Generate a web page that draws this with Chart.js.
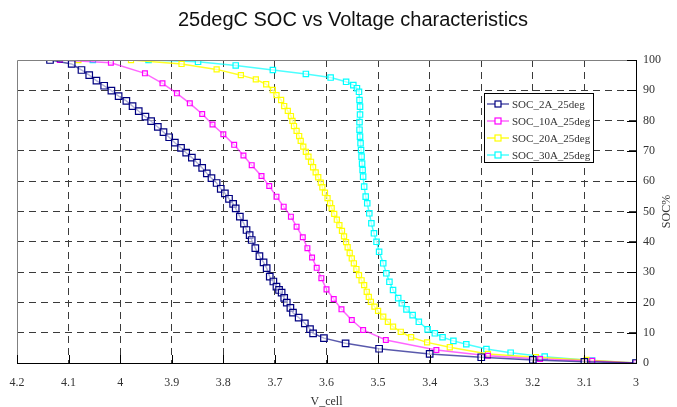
<!DOCTYPE html>
<html>
<head>
<meta charset="utf-8">
<script src="https://cdn.jsdelivr.net/npm/chart.js@4.4.0/dist/chart.umd.min.js"></script>
<style>
  html, body { margin: 0; padding: 0; background: #fff; }
  #wrap { width: 677px; height: 407px; }
</style>
</head>
<body>
<div id="wrap"><canvas id="grafico" width="677" height="407"></canvas></div>
<script>
const titulo = "25degC SOC vs Voltage characteristics";
const nomes = ["SOC_2A_25deg", "SOC_10A_25deg", "SOC_20A_25deg", "SOC_30A_25deg"];
const cores = ["#000080", "#ff00ff", "#ffff00", "#00ffff"];
const xTicks = [4.2, 4.1, 4.0, 3.9, 3.8, 3.7, 3.6, 3.5, 3.4, 3.3, 3.2, 3.1, 3.0];
const yTicks = [0, 10, 20, 30, 40, 50, 60, 70, 80, 90, 100];

// SOC_2A_25deg
const v2A = [4.136, 4.094, 4.075, 4.060, 4.046, 4.031, 4.017, 4.003, 3.988, 3.976,
  3.964, 3.951, 3.940, 3.927, 3.916, 3.905, 3.894, 3.882, 3.872, 3.861,
  3.851, 3.841, 3.832, 3.823, 3.813, 3.805, 3.797, 3.789, 3.781, 3.776,
  3.768, 3.760, 3.755, 3.749, 3.745, 3.738, 3.730, 3.722, 3.716, 3.710,
  3.703, 3.697, 3.692, 3.687, 3.682, 3.677, 3.670, 3.665, 3.654, 3.642,
  3.632, 3.626, 3.605, 3.563, 3.498, 3.400, 3.300, 3.200, 3.100, 3.000];
const soc2A = [100, 98.7, 96.7, 95.0, 93.2, 91.5, 89.9, 88.1, 86.5, 84.8,
  83.1, 81.3, 79.8, 77.9, 76.2, 74.5, 72.7, 71.0, 69.4, 67.8,
  66.1, 64.4, 62.6, 61.0, 59.4, 57.5, 56.0, 54.2, 52.5, 51.0,
  48.3, 46.0, 43.9, 42.2, 40.6, 37.9, 35.3, 33.2, 31.3, 28.5,
  26.9, 25.2, 24.1, 23.2, 21.5, 19.9, 18.2, 16.6, 15.0, 13.1,
  11.2, 9.8, 8.2, 6.5, 4.7, 3.0, 1.9, 1.0, 0.4, 0];

// SOC_10A_25deg
const v10A = [4.117, 4.018, 3.952, 3.918, 3.890, 3.865, 3.841, 3.821, 3.800, 3.779,
  3.761, 3.745, 3.726, 3.711, 3.697, 3.683, 3.669, 3.658, 3.646, 3.637,
  3.628, 3.619, 3.610, 3.600, 3.586, 3.571, 3.551, 3.529, 3.485, 3.387,
  3.287, 3.186, 3.085, 3.000];
const soc10A = [100, 99.1, 95.6, 92.3, 89.0, 85.7, 82.2, 78.7, 75.5, 72.0,
  68.5, 65.3, 61.7, 58.4, 54.9, 51.6, 48.3, 45.0, 41.5, 37.9,
  34.8, 31.4, 28.0, 24.3, 21.1, 17.7, 14.2, 10.9, 7.6, 4.3,
  2.4, 1.3, 0.7, 0];

// SOC_20A_25deg
const v20A = [4.081, 3.979, 3.881, 3.813, 3.766, 3.737, 3.717, 3.704, 3.697, 3.688,
  3.682, 3.675, 3.669, 3.666, 3.663, 3.658, 3.653, 3.650, 3.645, 3.640,
  3.635, 3.630, 3.626, 3.621, 3.616, 3.611, 3.608, 3.603, 3.598, 3.593,
  3.590, 3.585, 3.580, 3.575, 3.570, 3.566, 3.562, 3.559, 3.555, 3.551,
  3.547, 3.542, 3.537, 3.532, 3.527, 3.522, 3.518, 3.514, 3.507, 3.500,
  3.490, 3.481, 3.471, 3.456, 3.436, 3.405, 3.361, 3.287, 3.194, 3.096, 3.000];
const soc20A = [100, 100, 98.7, 96.9, 95.0, 93.6, 92.0, 90.1, 88.4, 86.8,
  84.8, 83.2, 81.5, 79.9, 78.2, 76.6, 74.9, 73.3, 71.4, 69.7,
  68.1, 66.4, 64.6, 62.9, 61.3, 59.5, 58.0, 56.2, 54.4, 52.7,
  51.1, 49.2, 47.3, 45.5, 43.6, 41.8, 39.9, 38.2, 36.3, 34.5,
  32.9, 31.0, 29.0, 27.3, 25.7, 23.5, 21.8, 20.2, 18.6, 17.2,
  15.3, 13.6, 12.0, 10.3, 8.5, 6.8, 5.2, 3.0, 1.9, 1.0, 0];

// SOC_30A_25deg
const v30A = [4.053, 3.945, 3.849, 3.776, 3.704, 3.640, 3.592, 3.562, 3.548, 3.541,
  3.537, 3.536, 3.535, 3.535, 3.536, 3.536, 3.535, 3.534, 3.533, 3.532,
  3.531, 3.530, 3.529, 3.527, 3.524, 3.521, 3.517, 3.513, 3.508, 3.503,
  3.498, 3.490, 3.484, 3.478, 3.471, 3.461, 3.454, 3.445, 3.433, 3.421,
  3.404, 3.390, 3.375, 3.354, 3.329, 3.290, 3.243, 3.177, 3.085, 3.000];
const soc30A = [100, 100, 99.4, 98.2, 96.7, 95.4, 94.2, 92.8, 91.7, 90.7,
  89.5, 86.8, 84.6, 82.0, 79.5, 77.0, 74.7, 72.5, 70.3, 68.1,
  65.8, 63.7, 61.5, 58.2, 54.9, 52.7, 49.4, 46.1, 42.8, 40.0,
  36.7, 32.9, 29.6, 26.8, 24.1, 21.4, 19.7, 17.7, 15.8, 13.6,
  11.1, 9.8, 8.5, 7.3, 6.2, 4.6, 3.4, 2.1, 0.8, 0];

const series = [[v2A, soc2A], [v10A, soc10A], [v20A, soc20A], [v30A, soc30A]];
const linhas = ["rgba(0,0,128,0.65)", "rgba(255,0,255,0.6)", "rgba(255,255,0,0.85)", "rgba(0,255,255,0.7)"];
const raios = [4.6, 3.4, 3.6, 3.8];

const serif = "'Liberation Serif', 'DejaVu Serif', serif";

const decoracao = {
  id: "decoracao",
  afterDraw(chart) {
    const ctx = chart.ctx;
    const area = chart.chartArea;
    const sx = chart.scales.x, sy = chart.scales.y;
    ctx.save();

    // bordas de cima e da esquerda
    ctx.strokeStyle = "#808080";
    ctx.lineWidth = 1;
    ctx.beginPath();
    ctx.moveTo(area.left + 0.5, area.bottom);
    ctx.lineTo(area.left + 0.5, area.top + 0.5);
    ctx.lineTo(area.right, area.top + 0.5);
    ctx.stroke();

    // marcas para dentro
    ctx.strokeStyle = "#000";
    ctx.beginPath();
    xTicks.forEach(function (v) {
      const px = Math.round(sx.getPixelForValue(v)) + 0.5;
      ctx.moveTo(px, area.bottom);
      ctx.lineTo(px, area.bottom - 8);
    });
    yTicks.forEach(function (v) {
      const py = Math.round(sy.getPixelForValue(v)) + 0.5;
      ctx.moveTo(area.right, py);
      ctx.lineTo(area.right - 9, py);
    });
    ctx.stroke();

    // titulo
    ctx.fillStyle = "#111";
    ctx.font = "20px 'Liberation Sans', Arial, sans-serif";
    ctx.textAlign = "center";
    ctx.textBaseline = "middle";
    ctx.fillText(titulo, 353, 20);

    // titulo do eixo y
    ctx.save();
    ctx.translate(667, (area.top + area.bottom) / 2);
    ctx.rotate(-Math.PI / 2);
    ctx.font = "12px " + serif;
    ctx.fillStyle = "#333";
    ctx.fillText("SOC%", 0, 0);
    ctx.restore();

    // legenda
    const lx = 484, ly = 93, lw = 109, lh = 69;
    ctx.fillStyle = "#fff";
    ctx.fillRect(lx, ly, lw, lh);
    ctx.strokeStyle = "#000";
    ctx.lineWidth = 1;
    ctx.strokeRect(lx + 0.5, ly + 0.5, lw, lh);
    ctx.font = "11px " + serif;
    ctx.textAlign = "left";
    chart.data.datasets.forEach(function (ds, i) {
      const y = ly + 11 + i * 17;
      ctx.strokeStyle = ds.borderColor;
      ctx.lineWidth = 1.5;
      ctx.beginPath();
      ctx.moveTo(lx + 3, y);
      ctx.lineTo(lx + 25, y);
      ctx.stroke();
      ctx.strokeStyle = ds.pointBorderColor;
      ctx.lineWidth = 1.2;
      ctx.fillStyle = "#fff";
      ctx.fillRect(lx + 11, y - 3, 6, 6);
      ctx.strokeRect(lx + 11, y - 3, 6, 6);
      ctx.fillStyle = "#333";
      ctx.fillText(ds.label, lx + 28, y + 1);
    });
    ctx.restore();
  }
};

const ctx = document.getElementById("grafico").getContext("2d");

new Chart(ctx, {
  type: "scatter",
  data: {
    datasets: series.map(function (s, i) {
      return {
        label: nomes[i],
        data: s[0].map(function (v, k) { return { x: v, y: s[1][k] }; }),
        showLine: true,
        borderColor: linhas[i],
        borderWidth: 1.5,
        pointStyle: "rect",
        pointRadius: raios[i],
        pointBorderColor: cores[i],
        pointBorderWidth: 1.2,
        pointBackgroundColor: "rgba(255,255,255,0.55)",
        tension: 0
      };
    })
  },
  options: {
    responsive: false,
    animation: false,
    layout: { padding: { left: 17, top: 60, right: 0, bottom: 0 } },
    plugins: {
      legend: { display: false },
      title: { display: false },
      tooltip: { enabled: false }
    },
    scales: {
      x: {
        type: "linear",
        reverse: true,
        min: 3.0,
        max: 4.2,
        afterBuildTicks: function (scale) {
          scale.ticks = xTicks.map(function (v) { return { value: v }; });
        },
        afterFit: function (scale) {
          scale.height = 44;
          scale.paddingLeft = 0;
          scale.paddingRight = 0;
        },
        ticks: {
          autoSkip: false,
          maxRotation: 0,
          padding: 13,
          color: "#333",
          font: { family: serif, size: 12 },
          callback: function (v) { return String(Number(v.toFixed(1))); }
        },
        grid: {
          drawTicks: false,
          color: function (c) {
            const v = c.tick ? c.tick.value : null;
            return (v === 4.2 || v === 3.0) ? "rgba(0,0,0,0)" : "#3a3a3a";
          },
          lineWidth: 1
        },
        border: { display: true, color: "#000", width: 1, dash: [7, 5] },
        title: {
          display: true,
          text: "V_cell",
          color: "#333",
          font: { family: serif, size: 12 },
          padding: { top: 0, bottom: -2 }
        }
      },
      y: {
        type: "linear",
        position: "right",
        min: 0,
        max: 100,
        afterBuildTicks: function (scale) {
          scale.ticks = yTicks.map(function (v) { return { value: v }; });
        },
        afterFit: function (scale) {
          scale.width = 41;
          scale.paddingTop = 0;
          scale.paddingBottom = 0;
        },
        ticks: {
          padding: 7,
          color: "#333",
          font: { family: serif, size: 12 }
        },
        grid: {
          drawTicks: false,
          color: function (c) {
            const v = c.tick ? c.tick.value : null;
            return (v === 100 || v === 0) ? "rgba(0,0,0,0)" : "#3a3a3a";
          },
          lineWidth: 1
        },
        border: { display: true, color: "#000", width: 1, dash: [7, 5] }
      }
    }
  },
  plugins: [decoracao]
});
</script>
</body>
</html>
